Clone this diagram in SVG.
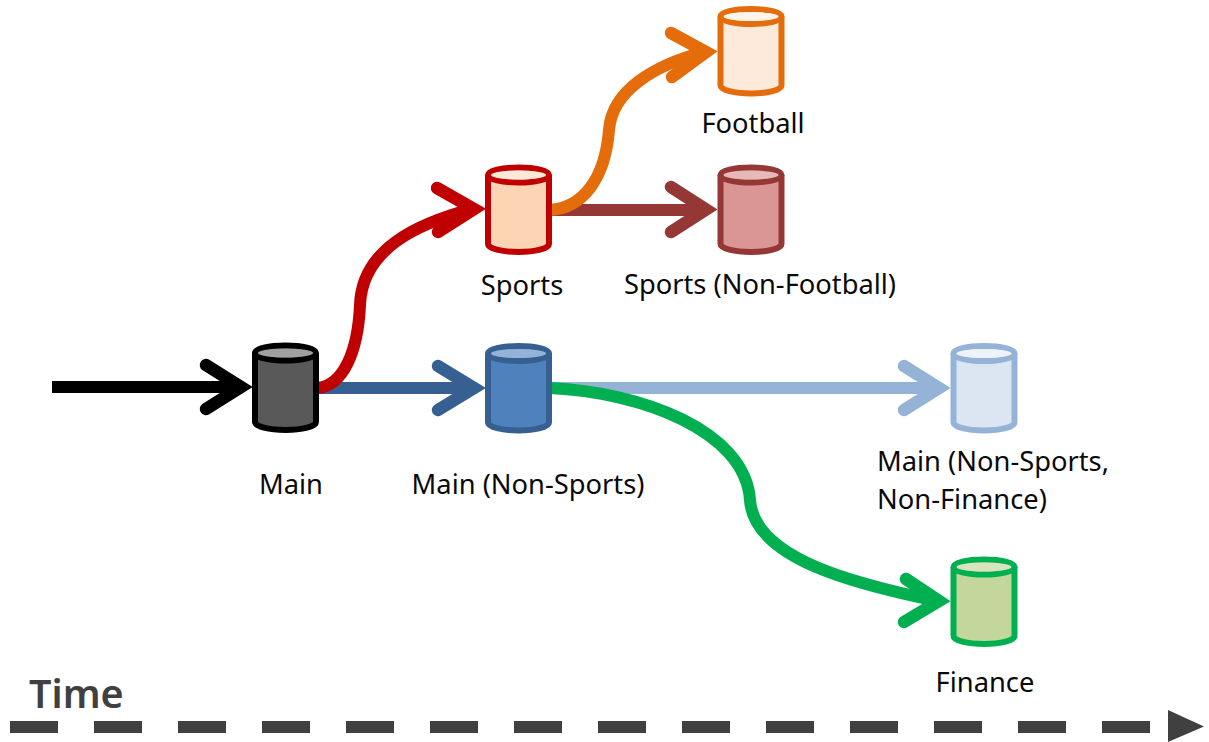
<svg xmlns="http://www.w3.org/2000/svg" width="1209" height="742" viewBox="0 0 1209 742">
<style>
.l{font-family:"Noto Sans","Open Sans","Liberation Sans",sans-serif;font-size:27.300px;fill:#0a0a0a}
.c{fill:none;stroke-width:12px}
.h{fill:none;stroke-width:12.500px;stroke-linecap:round;stroke-linejoin:miter}
</style>
<defs>
<g id="cyl">
<path d="M-30.500,-34.500 V34.500 A30.500,8 0 0 0 30.500,34.500 V-34.500"/>
<ellipse cx="0" cy="-34.500" rx="30.500" ry="7.500"/>
</g>
</defs>
<rect width="1209" height="742" fill="#ffffff"/>
<g id="connectors">
<path class="c" stroke="#000000" d="M52,387 H238"/>
<path class="h" stroke="#000000" d="M206,365 L241,387 L206,409"/>
<path class="c" stroke="#376092" d="M319,388 H470"/>
<path class="h" stroke="#376092" d="M438,366 L474,388 L438,410"/>
<path class="c" stroke="#c00000" d="M317,388 C344,386 358,350 360,305 C362,250 415,224 472,209"/>
<path class="h" stroke="#c00000" d="M437,188 L474,209 L438,232"/>
<path class="c" stroke="#953735" d="M552,210 H702"/>
<path class="h" stroke="#953735" d="M671,187 L706,209.500 L671,232"/>
<path class="c" stroke="#e46c0a" d="M550,210 C582,208 605,180 609,130 C612,90 655,65 704,52"/>
<path class="h" stroke="#e46c0a" d="M671,33 L706,52 L672,77"/>
<path class="c" stroke="#95b3d7" d="M552,388 H936"/>
<path class="h" stroke="#95b3d7" d="M904,366 L939,388 L904,410"/>
<path class="c" stroke="#00b050" d="M550,388 C640,392 745,430 750,500 C754,560 860,585 937,601"/>
<path class="h" stroke="#00b050" d="M906,579 L939,601 L904,622"/>
</g>
<g id="main"><use href="#cyl" transform="translate(285.500,387.500)" fill="#595959" stroke="#000000" stroke-width="6"/><ellipse cx="285.500" cy="353" rx="27.500" ry="4.500" fill="#a0a0a0"/><text class="l" x="291" y="494" text-anchor="middle">Main</text></g>
<g id="main-non-sports"><use href="#cyl" transform="translate(518.500,388)" fill="#4f81bd" stroke="#376092" stroke-width="6"/><ellipse cx="518.500" cy="353.500" rx="27.500" ry="4.500" fill="#95b3d7"/><text class="l" x="528" y="494" text-anchor="middle">Main (Non-Sports)</text></g>
<g id="sports"><use href="#cyl" transform="translate(518.500,209.500)" fill="#fcd5b5" stroke="#c00000" stroke-width="6"/><ellipse cx="518.500" cy="175" rx="27.500" ry="4.500" fill="#fde9d9"/><text class="l" x="522" y="295" text-anchor="middle">Sports</text></g>
<g id="football"><use href="#cyl" transform="translate(751,51)" fill="#fdeada" stroke="#e46c0a" stroke-width="6"/><ellipse cx="751" cy="16.500" rx="27.500" ry="4.500" fill="#fef4ec"/><text class="l" x="753" y="133" text-anchor="middle">Football</text></g>
<g id="sports-non-football"><use href="#cyl" transform="translate(751,209.500)" fill="#d99694" stroke="#953735" stroke-width="6"/><ellipse cx="751" cy="175" rx="27.500" ry="4.500" fill="#e6b9b8"/><text class="l" x="760" y="294" text-anchor="middle">Sports (Non-Football)</text></g>
<g id="main-non-sports-non-finance"><use href="#cyl" transform="translate(984,388)" fill="#dce6f2" stroke="#95b3d7" stroke-width="6"/><ellipse cx="984" cy="353.500" rx="27.500" ry="4.500" fill="#eef3f9"/><text class="l" x="877" y="471">Main (Non-Sports,</text><text class="l" x="877" y="509">Non-Finance)</text></g>
<g id="finance"><use href="#cyl" transform="translate(984,601.500)" fill="#c3d69b" stroke="#00b050" stroke-width="6"/><ellipse cx="984" cy="567" rx="27.500" ry="4.500" fill="#d7e4bd"/><text class="l" x="985" y="692" text-anchor="middle">Finance</text></g>
<g id="time">
<text x="29" y="708" font-family="'Noto Sans','Open Sans',sans-serif" font-size="39.500" font-weight="600" fill="#404040">Time</text>
<path d="M10,727 H1150" fill="none" stroke="#404040" stroke-width="12" stroke-dasharray="48 36"/>
<path d="M1168,710 L1204,726.500 L1168,742 Z" fill="#404040"/>
</g>
</svg>
